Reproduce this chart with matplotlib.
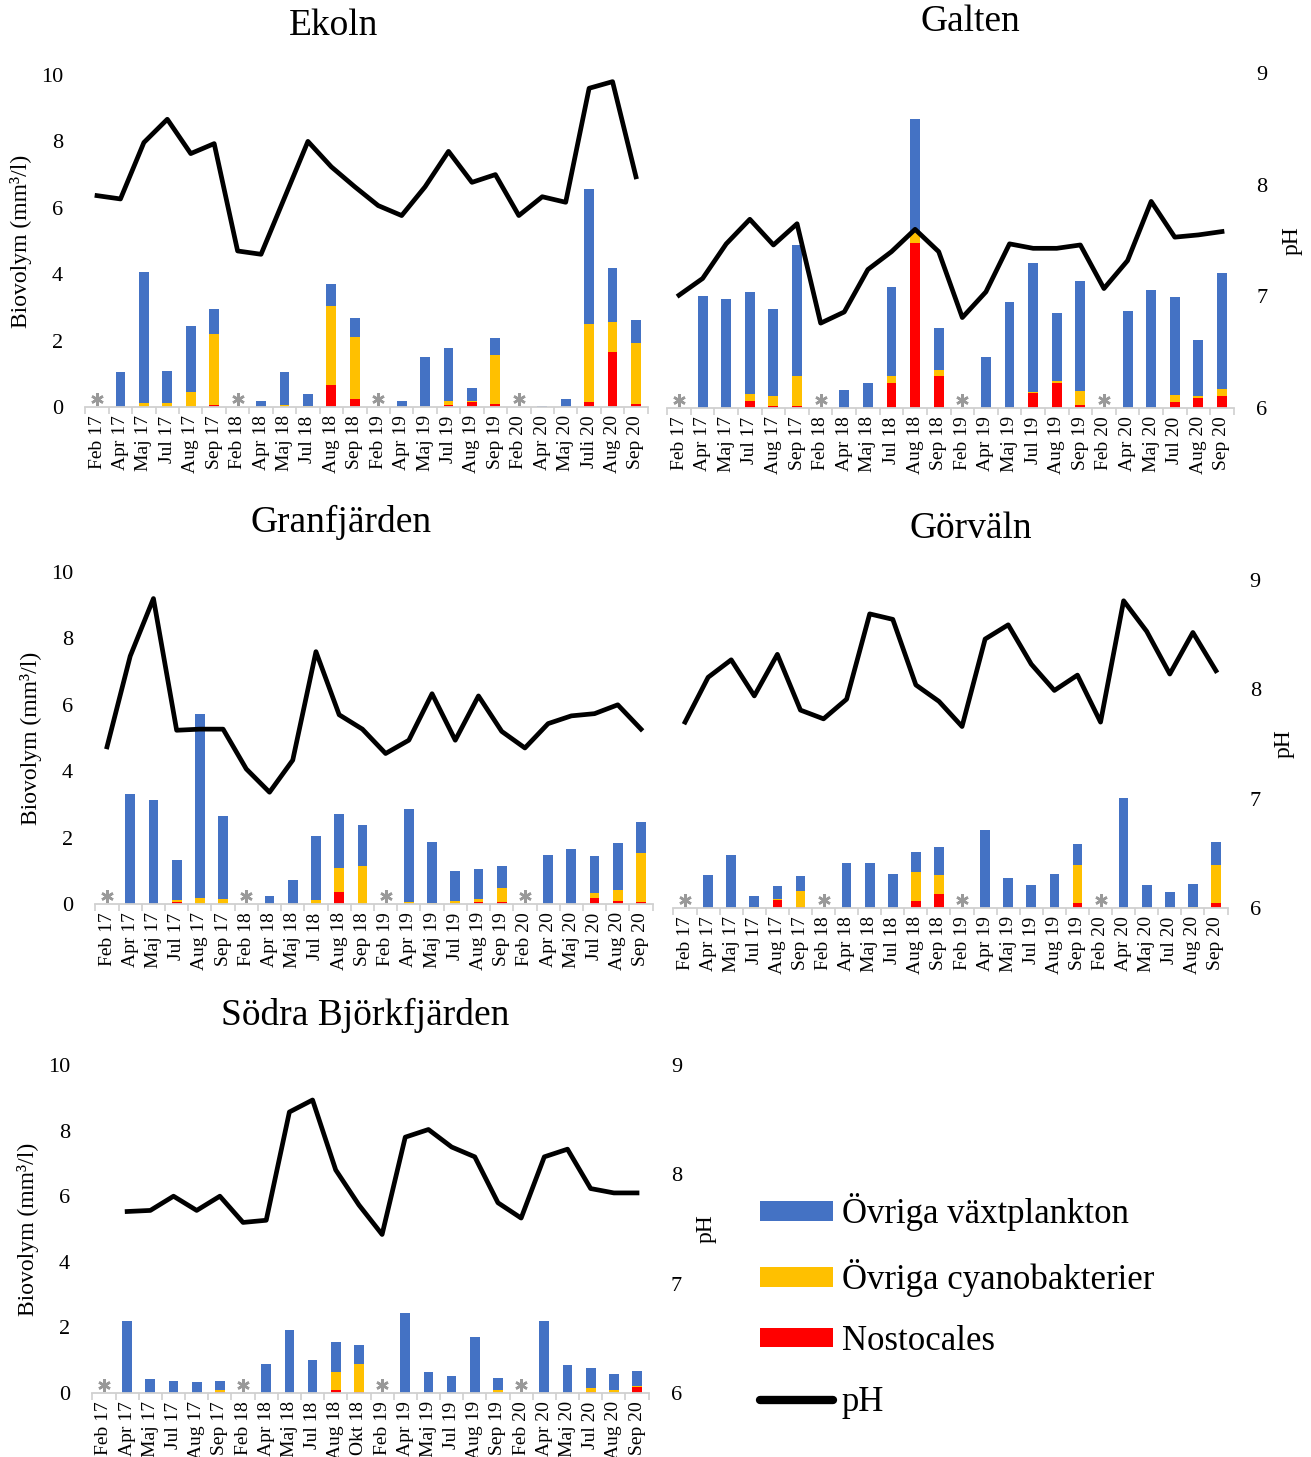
import numpy as np
import matplotlib.pyplot as plt
from matplotlib.patches import Patch
from matplotlib.lines import Line2D

plt.rcParams['font.family'] = ['Liberation Serif', 'DejaVu Serif']

# provtagningstillfällen
manader = ['Feb 17', 'Apr 17', 'Maj 17', 'Jul 17', 'Aug 17', 'Sep 17',
           'Feb 18', 'Apr 18', 'Maj 18', 'Jul 18', 'Aug 18', 'Sep 18',
           'Feb 19', 'Apr 19', 'Maj 19', 'Jul 19', 'Aug 19', 'Sep 19',
           'Feb 20', 'Apr 20', 'Maj 20', 'Jul 20', 'Aug 20', 'Sep 20']
manader_ekoln = manader[:21] + ['Juli 20'] + manader[22:]
manader_sodra = manader[:11] + ['Okt 18'] + manader[12:]

# Ekoln
ekoln_ovriga = [0, 1.05, 3.95, 0.95, 1.98, 0.73, 0, 0.17, 1.00, 0.35, 0.67, 0.57,
                0, 0.17, 1.51, 1.58, 0.39, 0.50, 0, 0.04, 0.25, 4.06, 1.61, 0.69]
ekoln_cyano = [0, 0, 0.12, 0.12, 0.45, 2.16, 0, 0, 0.05, 0.04, 2.38, 1.85,
               0, 0, 0, 0.13, 0.05, 1.48, 0, 0, 0, 2.35, 0.91, 1.86]
ekoln_nosto = [0, 0, 0, 0, 0, 0.05, 0, 0, 0, 0, 0.65, 0.25,
               0, 0, 0, 0.06, 0.14, 0.10, 0, 0, 0, 0.16, 1.66, 0.08]
ekoln_ph = [7.91, 7.88, 8.39, 8.60, 8.29, 8.38, 7.41, 7.38, 7.89, 8.40, 8.17, 7.99,
            7.82, 7.73, 7.99, 8.31, 8.03, 8.10, 7.73, 7.90, 7.85, 8.88, 8.94, 8.08]

# Galten
galten_ovriga = [0, 3.34, 3.25, 3.04, 2.58, 3.90, 0, 0.55, 0.76, 2.67, 3.35, 1.28,
                 0, 1.53, 3.15, 3.85, 2.01, 3.27, 0, 2.91, 3.52, 2.91, 1.69, 3.45]
galten_cyano = [0, 0, 0, 0.20, 0.30, 0.91, 0, 0, 0, 0.19, 0.33, 0.17,
                0, 0, 0, 0.03, 0.08, 0.44, 0, 0, 0, 0.20, 0.05, 0.21]
galten_nosto = [0, 0, 0, 0.22, 0.07, 0.06, 0, 0, 0, 0.76, 4.94, 0.95,
                0, 0, 0, 0.44, 0.74, 0.08, 0, 0, 0, 0.19, 0.30, 0.36]
galten_ph = [7.01, 7.16, 7.47, 7.69, 7.46, 7.65, 6.76, 6.86, 7.24, 7.40, 7.60, 7.40,
             6.81, 7.04, 7.47, 7.43, 7.43, 7.46, 7.07, 7.32, 7.85, 7.53, 7.55, 7.58]

# Granfjärden
granf_ovriga = [0, 3.31, 3.14, 1.22, 5.54, 2.51, 0, 0.23, 0.71, 1.93, 1.63, 1.23,
                0, 2.81, 1.83, 0.88, 0.89, 0.66, 0, 1.49, 1.66, 1.13, 1.40, 0.92]
granf_cyano = [0, 0, 0, 0.05, 0.17, 0.14, 0, 0, 0, 0.12, 0.71, 1.14,
               0, 0.06, 0.04, 0.10, 0.09, 0.43, 0, 0, 0, 0.16, 0.33, 1.47]
granf_nosto = [0, 0, 0, 0.06, 0, 0, 0, 0, 0, 0, 0.37, 0,
               0, 0, 0, 0, 0.06, 0.05, 0, 0, 0, 0.17, 0.10, 0.07]
granf_ph = [7.42, 8.24, 8.76, 7.57, 7.58, 7.58, 7.22, 7.01, 7.30, 8.28, 7.71, 7.58,
            7.36, 7.48, 7.90, 7.48, 7.88, 7.56, 7.41, 7.63, 7.70, 7.72, 7.80, 7.58]

# Görväln
gorv_ovriga = [0, 1.02, 1.63, 0.32, 0.42, 0.47, 0, 1.36, 1.36, 1.04, 0.63, 0.86,
               0, 2.37, 0.92, 0.70, 1.05, 0.64, 0, 3.36, 0.71, 0.48, 0.69, 0.70]
gorv_cyano = [0, 0, 0, 0.04, 0.03, 0.48, 0, 0, 0, 0, 0.89, 0.57,
              0, 0, 0, 0, 0, 1.15, 0, 0, 0, 0, 0.04, 1.17]
gorv_nosto = [0, 0, 0, 0, 0.23, 0.04, 0, 0, 0, 0, 0.20, 0.43,
              0, 0, 0, 0, 0, 0.16, 0, 0, 0, 0, 0, 0.14]
gorv_ph = [7.70, 8.11, 8.27, 7.94, 8.32, 7.81, 7.73, 7.91, 8.69, 8.64, 8.04, 7.89,
           7.66, 8.46, 8.59, 8.23, 7.99, 8.13, 7.70, 8.81, 8.53, 8.14, 8.52, 8.17]

# Södra Björkfjärden
sodra_ovriga = [0, 2.18, 0.44, 0.37, 0.35, 0.29, 0, 0.88, 1.93, 1.00, 0.90, 0.57,
                0, 2.43, 0.64, 0.52, 1.71, 0.38, 0, 2.18, 0.86, 0.61, 0.49, 0.44]
sodra_cyano = [0, 0, 0, 0, 0, 0.04, 0, 0, 0, 0, 0.57, 0.84,
               0, 0, 0, 0, 0, 0.09, 0, 0, 0, 0.12, 0.09, 0.05]
sodra_nosto = [0, 0, 0, 0, 0, 0.04, 0, 0, 0, 0, 0.08, 0.04,
               0, 0, 0, 0, 0, 0, 0, 0, 0, 0.04, 0, 0.17]
sodra_ph = [np.nan, 7.66, 7.67, 7.80, 7.67, 7.80, 7.56, 7.58, 8.57, 8.68, 8.04, 7.72,
            7.45, 8.34, 8.41, 8.25, 8.16, 7.74, 7.60, 8.16, 8.23, 7.87, 7.83, 7.83]

BLA = '#4472C4'
GUL = '#FFC000'
ROD = '#FF0000'

W, H = 1311, 1457
fig = plt.figure(figsize=(W / 100, H / 100), dpi=100)


def box(x0, x1, y0, y1):
    return [x0 / W, 1 - y1 / H, (x1 - x0) / W, (y1 - y0) / H]


def panel(rect, labels, ovriga, cyano, nosto, ph, left=True, right=True):
    ax = fig.add_axes(rect)
    x = np.arange(len(labels))
    bw = 0.42
    ax.bar(x, nosto, bw, color=ROD)
    ax.bar(x, cyano, bw, bottom=nosto, color=GUL)
    ax.bar(x, ovriga, bw, bottom=np.add(nosto, cyano), color=BLA)

    ax.set_xlim(-0.5, len(labels) - 0.5)
    ax.set_ylim(0, 10)
    ax.set_yticks(range(0, 11, 2))
    ax.set_xticks(x)
    ax.set_xticklabels(labels, rotation=90, fontsize=14)
    ax.set_xticks(np.arange(-0.5, len(labels)), minor=True)
    ax.tick_params(axis='x', which='major', length=0, pad=6)
    ax.tick_params(axis='x', which='minor', length=5, width=1.2, color='#d0d0d0')
    ax.tick_params(axis='y', length=0, pad=16, labelsize=16, labelleft=left)
    for s in ['top', 'left', 'right']:
        ax.spines[s].set_visible(False)
    ax.spines['bottom'].set_color('#d0d0d0')
    ax.spines['bottom'].set_linewidth(1.3)

    # saknade februariprover markeras med asterisk
    feb = [i for i, lab in enumerate(labels) if lab.startswith('Feb')]
    ax.plot(feb, [0.25] * len(feb), ls='none', marker=(6, 2, 0), ms=9,
            mew=1.8, color='#999999', clip_on=False)

    ax2 = ax.twinx()
    ax2.plot(x, ph, color='black', lw=3.4, solid_joinstyle='round')
    ax2.set_ylim(6, 9)
    ax2.set_yticks([6, 7, 8, 9])
    ax2.tick_params(axis='y', length=0, pad=16, labelsize=16, labelright=right)
    for s in ax2.spines.values():
        s.set_visible(False)

    if left:
        ax.text(-0.115, 0.5, 'Biovolym (mm³/l)', transform=ax.transAxes,
                rotation=90, ha='center', va='center', fontsize=17)
    if right:
        ax2.text(1.103, 0.5, 'pH', transform=ax2.transAxes,
                 rotation=90, ha='center', va='center', fontsize=17)
    return ax


panel(box(85.3, 647.7, 75, 407), manader_ekoln,
      ekoln_ovriga, ekoln_cyano, ekoln_nosto, ekoln_ph, left=True, right=False)
panel(box(667.2, 1233.8, 73, 408), manader,
      galten_ovriga, galten_cyano, galten_nosto, galten_ph, left=False, right=True)
panel(box(95.4, 652.6, 572, 904), manader,
      granf_ovriga, granf_cyano, granf_nosto, granf_ph, left=True, right=False)
panel(box(673.5, 1227.5, 580, 908), manader,
      gorv_ovriga, gorv_cyano, gorv_nosto, gorv_ph, left=False, right=True)
panel(box(92.4, 648.6, 1065, 1393), manader_sodra,
      sodra_ovriga, sodra_cyano, sodra_nosto, sodra_ph, left=True, right=True)

titlar = [('Ekoln', 334, 26), ('Galten', 970, 22), ('Granfjärden', 341, 522),
          ('Görväln', 971, 529), ('Södra Björkfjärden', 365, 1015)]
for namn, tx, ty in titlar:
    fig.text(tx / W, 1 - ty / H, namn, ha='center', va='center', fontsize=27)

handles = [Patch(facecolor=BLA, edgecolor='none'),
           Patch(facecolor=GUL, edgecolor='none'),
           Patch(facecolor=ROD, edgecolor='none'),
           Line2D([], [], color='black', lw=6, solid_capstyle='round')]
fig.legend(handles, ['Övriga växtplankton', 'Övriga cyanobakterier', 'Nostocales', 'pH'],
           loc='center left', bbox_to_anchor=(760 / W, 1 - 1306 / H),
           frameon=False, fontsize=25, handlelength=2.1, handleheight=0.49,
           handletextpad=0.26, labelspacing=0.8, borderpad=0, borderaxespad=0)

fig.savefig('out.png', dpi=100)
